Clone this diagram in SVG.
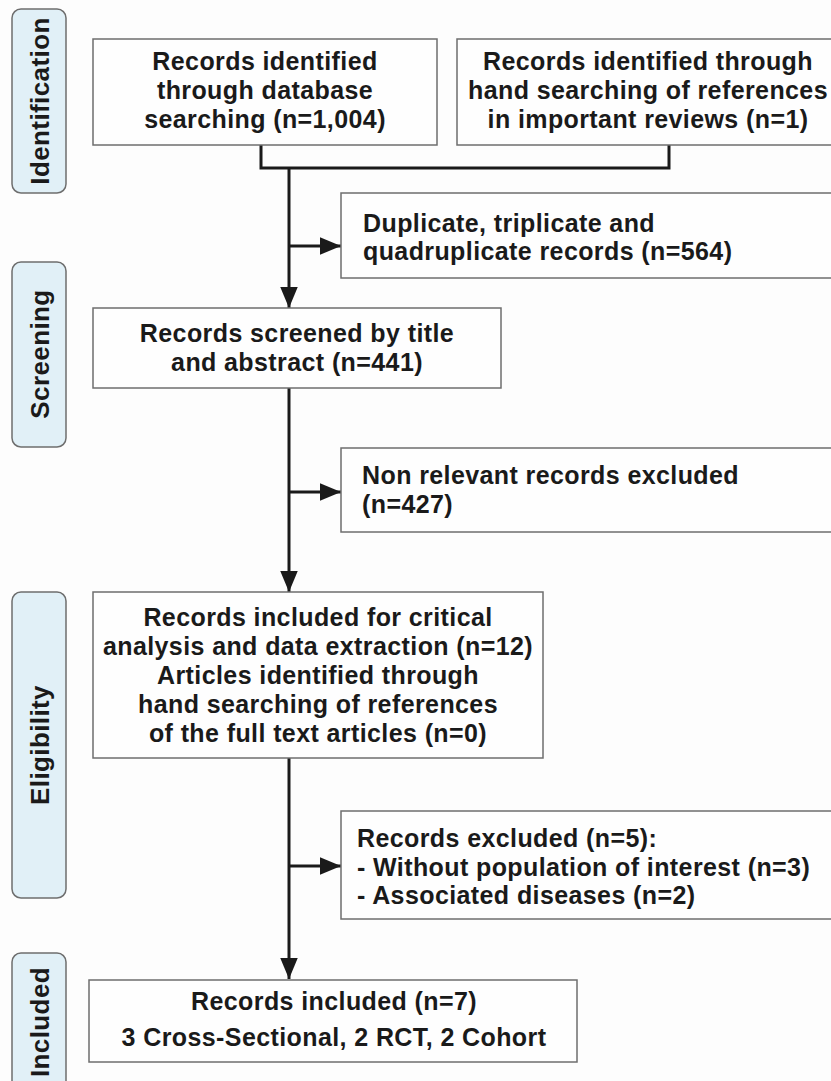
<svg xmlns="http://www.w3.org/2000/svg" width="831" height="1081" viewBox="0 0 831 1081">
<defs>
<style>
.bg{fill:#fdfdfd}
.box{fill:#fefefe;stroke:#6e6e6e;stroke-width:1.5}
.side{fill:#e1f0f7;stroke:#6e6e6e;stroke-width:1.5}
.t{font-family:"Liberation Sans",Arial,sans-serif;font-weight:bold;font-size:25px;letter-spacing:0.4px;fill:#1a1a1a}
.c{text-anchor:middle}
.s{font-family:"Liberation Sans",Arial,sans-serif;font-weight:bold;font-size:26px;letter-spacing:0.4px;fill:#1a1a1a;text-anchor:middle}
.ln{fill:none;stroke:#1a1a1a;stroke-width:3}
</style>
<marker id="ah" viewBox="0 0 12 10" refX="12" refY="5" markerWidth="7" markerHeight="6" markerUnits="strokeWidth" orient="auto">
<path d="M0,0 L12,5 L0,10 z" fill="#1a1a1a"/>
</marker>
</defs>
<rect class="bg" x="0" y="0" width="831" height="1081"/>

<g id="side-identification"><rect class="side" x="12" y="9" width="54" height="184" rx="9"/><text class="s" transform="translate(49,101) rotate(-90)">Identification</text></g>
<g id="side-screening"><rect class="side" x="12" y="262" width="54" height="185" rx="9"/><text class="s" transform="translate(49,354) rotate(-90)">Screening</text></g>
<g id="side-eligibility"><rect class="side" x="12" y="592" width="54" height="306" rx="9"/><text class="s" transform="translate(49,745) rotate(-90)">Eligibility</text></g>
<g id="side-included"><rect class="side" x="12" y="953" width="54" height="140" rx="9"/><text class="s" transform="translate(49,1022) rotate(-90)">Included</text></g>

<g id="connectors">
<polyline class="ln" points="261,145 261,168 669,168 669,145"/>
<line class="ln" x1="289" y1="168" x2="289" y2="308" marker-end="url(#ah)"/>
<line class="ln" x1="289" y1="246" x2="341" y2="246" marker-end="url(#ah)"/>
<line class="ln" x1="289" y1="388" x2="289" y2="592" marker-end="url(#ah)"/>
<line class="ln" x1="289" y1="492" x2="341" y2="492" marker-end="url(#ah)"/>
<line class="ln" x1="289" y1="758" x2="289" y2="979" marker-end="url(#ah)"/>
<line class="ln" x1="289" y1="866" x2="341" y2="866" marker-end="url(#ah)"/>
</g>

<g id="n-database"><rect class="box" x="93" y="39" width="344" height="106"/>
<text class="t c" x="265" y="70">Records identified</text>
<text class="t c" x="265" y="99">through database</text>
<text class="t c" x="265" y="128">searching (n=1,004)</text></g>

<g id="n-hand"><rect class="box" x="457" y="39" width="390" height="106"/>
<text class="t c" x="648" y="70">Records identified through</text>
<text class="t c" x="648" y="99">hand searching of references</text>
<text class="t c" x="648" y="128">in important reviews (n=1)</text></g>

<g id="n-duplicates"><rect class="box" x="341" y="193" width="500" height="85"/>
<text class="t" x="363" y="232">Duplicate, triplicate and</text>
<text class="t" x="363" y="260">quadruplicate records (n=564)</text></g>

<g id="n-screened"><rect class="box" x="93" y="308" width="408" height="80"/>
<text class="t c" x="297" y="342">Records screened by title</text>
<text class="t c" x="297" y="371">and abstract (n=441)</text></g>

<g id="n-nonrelevant"><rect class="box" x="341" y="448" width="500" height="84"/>
<text class="t" x="362" y="484">Non relevant records excluded</text>
<text class="t" x="362" y="513">(n=427)</text></g>

<g id="n-eligible"><rect class="box" x="93" y="592" width="450" height="166"/>
<text class="t c" x="318" y="626">Records included for critical</text>
<text class="t c" x="318" y="655">analysis and data extraction (n=12)</text>
<text class="t c" x="318" y="684">Articles identified through</text>
<text class="t c" x="318" y="713">hand searching of references</text>
<text class="t c" x="318" y="742">of the full text articles (n=0)</text></g>

<g id="n-excluded"><rect class="box" x="341" y="811" width="500" height="108"/>
<text class="t" x="357" y="847">Records excluded (n=5):</text>
<text class="t" x="357" y="876">- Without population of interest (n=3)</text>
<text class="t" x="357" y="904">- Associated diseases (n=2)</text></g>

<g id="n-included"><rect class="box" x="89" y="980" width="488" height="82"/>
<text class="t c" x="334" y="1010">Records included (n=7)</text>
<text class="t c" x="334" y="1046">3 Cross-Sectional, 2 RCT, 2 Cohort</text></g>
</svg>
